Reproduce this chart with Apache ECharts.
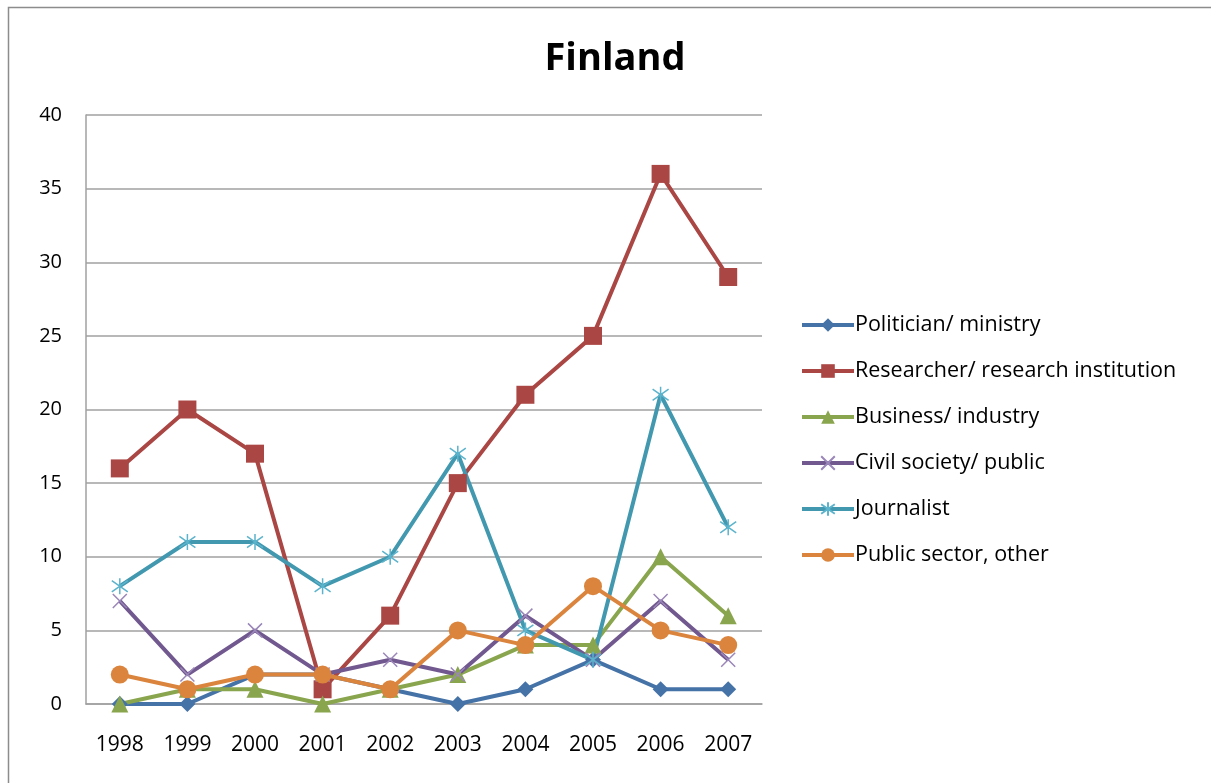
<!DOCTYPE html>
<html>
<head>
<meta charset="utf-8">
<script src="https://cdn.jsdelivr.net/npm/echarts@6/dist/echarts.min.js"></script>
<style>
  html, body { margin: 0; padding: 0; background: #fff; }
  #chart { width: 1211px; height: 783px; }
</style>
</head>
<body>
<div id="chart"></div>
<script>
  // 数据
  var years = ['1998', '1999', '2000', '2001', '2002', '2003', '2004', '2005', '2006', '2007']
  var politician = [0, 0, 2, 2, 1, 0, 1, 3, 1, 1]
  var researcher = [16, 20, 17, 1, 6, 15, 21, 25, 36, 29]
  var business = [0, 1, 1, 0, 1, 2, 4, 4, 10, 6]
  var civil = [7, 2, 5, 2, 3, 2, 6, 3, 7, 3]
  var journalist = [8, 11, 11, 8, 10, 17, 5, 3, 21, 12]
  var publicSector = [2, 1, 2, 2, 1, 5, 4, 8, 5, 4]

  var crossPath = 'path://M0,0L10,10M10,0L0,10'
  var starPath = 'path://M5,0L5,10M0.8,1.5L9.2,8.5M9.2,1.5L0.8,8.5'

  function makeSeries(name, data, color, symbol, size, stroke) {
    return {
      name: name,
      type: 'line',
      data: data,
      symbol: symbol,
      symbolSize: size,
      showAllSymbol: true,
      lineStyle: { color: color, width: 4 },
      itemStyle: stroke
        ? { color: 'rgba(0,0,0,0)', borderColor: stroke, borderWidth: 1.5 }
        : { color: color },
      emphasis: { disabled: true }
    }
  }

  var myChart = echarts.init(document.getElementById('chart'))
  myChart.setOption({
    animation: false,
    title: {
      text: 'Finland',
      left: 610,
      top: 35,
      textAlign: 'center',
      textStyle: { fontFamily: 'Open Sans', fontSize: 38, fontWeight: 'bold', color: '#000' }
    },
    graphic: [{
      type: 'rect',
      shape: { x: 8.5, y: 7.5, width: 1220, height: 800 },
      style: { fill: 'none', stroke: '#8c8c8c', lineWidth: 1.5 },
      silent: true
    }],
    legend: {
      orient: 'vertical',
      left: 795,
      top: 309,
      itemWidth: 52,
      itemHeight: 17,
      itemGap: 24,
      lineStyle: { width: 4 },
      textStyle: { fontFamily: 'Open Sans', fontSize: 21.5, color: '#000', padding: [0, 0, 0, -4] },
      data: ['Politician/ ministry', 'Researcher/ research institution', 'Business/ industry',
        'Civil society/ public', 'Journalist', 'Public sector, other']
    },
    grid: { left: 86, top: 115, width: 676, height: 589, containLabel: false },
    xAxis: {
      type: 'category',
      data: years,
      boundaryGap: true,
      axisLine: { show: true, lineStyle: { color: '#a0a0a0', width: 1.5 } },
      axisTick: { show: false },
      axisLabel: { color: '#000', fontFamily: 'Open Sans', fontSize: 21, margin: 31 }
    },
    yAxis: {
      type: 'value',
      min: 0,
      max: 40,
      interval: 5,
      axisLine: { show: true, lineStyle: { color: '#a0a0a0', width: 1.5 } },
      axisTick: { show: false },
      axisLabel: { color: '#000', fontFamily: 'Open Sans', fontSize: 20, margin: 24 },
      splitLine: { show: true, lineStyle: { color: '#a0a0a0', width: 1.5 } }
    },
    series: [
      makeSeries('Politician/ ministry', politician, '#4572A7', 'diamond', 16),
      makeSeries('Researcher/ research institution', researcher, '#AA4643', 'rect', 18),
      makeSeries('Business/ industry', business, '#89A54E', 'triangle', 17),
      makeSeries('Civil society/ public', civil, '#71588F', crossPath, 14, '#9a86b8'),
      makeSeries('Journalist', journalist, '#4198AF', starPath, 16, '#5bb3cc'),
      makeSeries('Public sector, other', publicSector, '#DB843D', 'circle', 18)
    ]
  })
</script>
</body>
</html>
